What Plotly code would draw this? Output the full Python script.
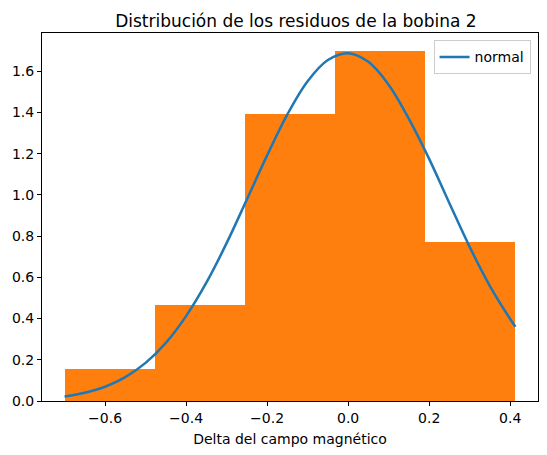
import plotly.graph_objects as go

# Histogram bins (density)
bin_edges = [-0.700, -0.4774, -0.2548, -0.0322, 0.1904, 0.413]
bin_heights = [0.155, 0.464, 1.393, 1.701, 0.773]

# Normal curve
curve_x = [-0.70, -0.65, -0.60, -0.55, -0.50, -0.45, -0.40, -0.35, -0.30, -0.25,
           -0.20, -0.15, -0.10, -0.05, 0.00, 0.05, 0.10, 0.15, 0.20, 0.25,
           0.30, 0.35, 0.40, 0.413]
curve_y = [0.022, 0.040, 0.069, 0.116, 0.185, 0.282, 0.412, 0.574, 0.766, 0.978,
           1.192, 1.391, 1.552, 1.655, 1.688, 1.646, 1.535, 1.369, 1.175, 0.960,
           0.748, 0.558, 0.398, 0.360]

x_ticks = [-0.6, -0.4, -0.2, 0.0, 0.2, 0.4]
y_ticks = [0.0, 0.2, 0.4, 0.6, 0.8, 1.0, 1.2, 1.4, 1.6]

centers = [(a + b) / 2 for a, b in zip(bin_edges[:-1], bin_edges[1:])]
widths = [b - a for a, b in zip(bin_edges[:-1], bin_edges[1:])]

fig = go.Figure()
fig.add_trace(go.Bar(x=centers, y=bin_heights, width=widths,
                     marker=dict(color='#ff7f0e', line=dict(width=0)),
                     showlegend=False))
fig.add_trace(go.Scatter(x=curve_x, y=curve_y, mode='lines', name='normal',
                         line=dict(color='#1f77b4', width=2.5, shape='spline')))

axis_style = dict(showline=True, linecolor='black', linewidth=1, mirror=True,
                  ticks='outside', ticklen=4, tickcolor='black', showgrid=False,
                  zeroline=False, automargin=False,
                  tickfont=dict(size=14, color='black'))

# page body has an 8px margin, so the figure is 8px smaller and offset
fig.update_layout(
    width=539, height=447,
    margin=dict(l=34, r=9, t=25, b=54),
    paper_bgcolor='white', plot_bgcolor='white',
    font=dict(family='DejaVu Sans', color='black'),
    title=dict(text='Distribución de los residuos de la bobina 2', xref='paper', x=0.512,
               xanchor='center', y=0.971, yanchor='middle', font=dict(size=17)),
    xaxis=dict(range=[-0.7557, 0.4687], tickvals=x_ticks, tickformat='.1f',
               title=dict(text='Delta del campo magnético', font=dict(size=14), standoff=9),
               **axis_style),
    yaxis=dict(range=[0, 1.786], tickvals=y_ticks, tickformat='.1f', **axis_style),
    legend=dict(x=0.985, y=0.98, xanchor='right', yanchor='top',
                bgcolor='rgba(255,255,255,0.8)', bordercolor='#cccccc', borderwidth=1,
                font=dict(size=14)),
    bargap=0,
)

fig.write_html("out.html")
